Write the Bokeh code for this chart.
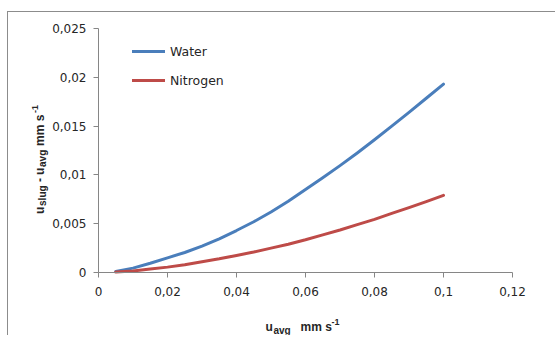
import math
from bokeh.plotting import figure
from bokeh.models import Range1d, FixedTicker, CustomJSTickFormatter, Label, Legend, LegendItem
from bokeh.embed import file_html
from bokeh.resources import INLINE

# ---- data ----
u_avg = [0.005, 0.01, 0.015, 0.02, 0.025, 0.03, 0.035, 0.04, 0.045, 0.05,
         0.055, 0.06, 0.065, 0.07, 0.075, 0.08, 0.085, 0.09, 0.095, 0.1]
water = [0.0001, 0.00045, 0.00095, 0.0015, 0.00205, 0.0027, 0.00345, 0.0043, 0.0052, 0.0062,
         0.0073, 0.0085, 0.0097, 0.01095, 0.01225, 0.0136, 0.015, 0.0164, 0.01785, 0.0193]
nitrogen = [0.00004, 0.00015, 0.00035, 0.00055, 0.0008, 0.0011, 0.0014, 0.00175, 0.0021, 0.0025,
            0.0029, 0.00335, 0.00385, 0.00435, 0.0049, 0.00545, 0.00605, 0.00665, 0.00727, 0.0079]
x_ticks = [0, 0.02, 0.04, 0.06, 0.08, 0.1, 0.12]
y_ticks = [0, 0.005, 0.01, 0.015, 0.02, 0.025]
series_names = ["Water", "Nitrogen"]

BLUE = "#4A7EBB"
RED = "#BE4B48"
AXIS = "#868686"
TXT = "#262626"

# frame fills the canvas; axes sit at data 0 (fixed_location) so every text is inside the frame
p = figure(width=548, height=324,
           x_range=Range1d(-0.026087, 0.132754), y_range=Range1d(-0.006557, 0.026639),
           output_backend="svg", toolbar_location=None,
           min_border_left=0, min_border_right=0, min_border_top=0, min_border_bottom=0)
p.styles = {"margin-left": "7px", "margin-top": "11px",
            "border-top": "1px solid #8c8c8c", "border-left": "1px solid #8c8c8c"}
p.grid.visible = False
p.outline_line_color = None
p.background_fill_color = "white"
p.border_fill_color = "white"

fmt = CustomJSTickFormatter(code="""
let s = tick.toFixed(3).replace(/0+$/, '').replace(/\\.$/, '');
return s.replace('.', ',');
""")

for ax, ticks in ((p.xaxis[0], x_ticks), (p.yaxis[0], y_ticks)):
    ax.ticker = FixedTicker(ticks=ticks)
    ax.formatter = fmt
    ax.fixed_location = 0
    ax.bounds = (ticks[0], ticks[-1])
    ax.axis_line_color = AXIS
    ax.major_tick_line_color = AXIS
    ax.minor_tick_line_color = None
    ax.major_tick_in = 0
    ax.major_tick_out = 5
    ax.major_label_text_font = "DejaVu Sans"
    ax.major_label_text_font_size = "12px"
    ax.major_label_text_color = TXT
p.yaxis.major_label_standoff = 7
p.xaxis.major_label_standoff = 9

r1 = p.line(u_avg, water, line_color=BLUE, line_width=3, line_cap="round", line_join="round")
r2 = p.line(u_avg, nitrogen, line_color=RED, line_width=3, line_cap="round", line_join="round")

legend = Legend(items=[LegendItem(label=series_names[0], renderers=[r1]),
                       LegendItem(label=series_names[1], renderers=[r2])],
                location=(124, 246), border_line_color=None, background_fill_alpha=0,
                glyph_width=33, glyph_height=20, label_height=20, spacing=9,
                padding=0, margin=0, label_standoff=5,
                label_text_font="DejaVu Sans", label_text_font_size="12.5px",
                label_text_color=TXT)
p.add_layout(legend)

# ---- axis titles built from pieces (subscripts / superscripts) ----
def piece(x, y, text, dx, dy, size, angle=0):
    p.add_layout(Label(x=x, y=y, text=text, x_offset=dx, y_offset=dy, angle=angle,
                       text_font="Liberation Sans", text_font_style="bold",
                       text_font_size=size, text_color=TXT,
                       text_align="left", text_baseline="alphabetic"))

# x title below the x axis
xa, ya = 0.0484, -0.0056
piece(xa, ya, "u", 0, 0, "12px")
piece(xa, ya, "avg", 8, -3, "10px")
piece(xa, ya, "mm s", 35, 0, "12px")
piece(xa, ya, "-1", 66, 5, "9px")

# y title, rotated, left of the y axis
xb, yb = -0.0171, 0.0060
A = math.pi / 2
piece(xb, yb, "u", 0, 0, "12px", A)
piece(xb, yb, "slug", 3, 8, "10px", A)
piece(xb, yb, "-", 0, 32, "12px", A)
piece(xb, yb, "u", 0, 39, "12px", A)
piece(xb, yb, "avg", 3, 47, "10px", A)
piece(xb, yb, "mm s", 0, 68, "12px", A)
piece(xb, yb, "-1", -5, 101, "9px", A)

open("out.html", "w").write(file_html(p, INLINE))
